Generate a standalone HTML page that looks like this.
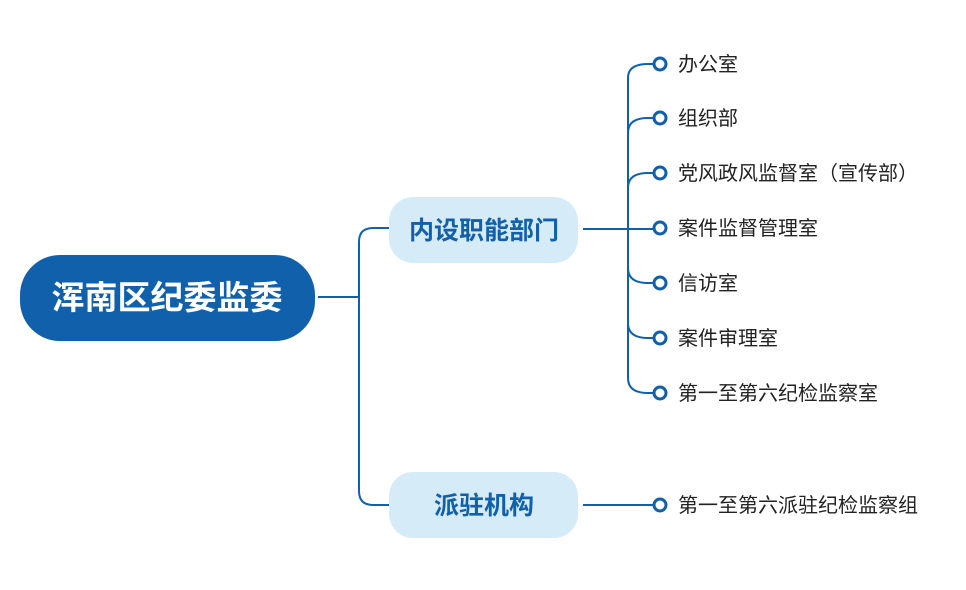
<!DOCTYPE html>
<html><head><meta charset="utf-8"><style>
body{margin:0;width:966px;height:590px;background:#fff;overflow:hidden;font-family:"Liberation Sans","Noto Sans CJK SC",sans-serif}
</style></head><body>
<svg width="966" height="590" xmlns="http://www.w3.org/2000/svg" style="position:absolute;left:0;top:0">
<g fill="none" stroke="#1160ab" stroke-width="2">
<path d="M318 297 H359"/>
<path d="M389 228 H373 Q359 228 359 242 V491 Q359 505 373 505 H389"/>
<path d="M583 229 H655"/>
<path d="M583 505 H655"/>
<path d="M628 378 V78 Q628 64 648 64 H655"/>
<path d="M628 133 Q628 118 648 118 H655"/>
<path d="M628 188 Q628 173 648 173 H655"/>
<path d="M628 268 Q628 283 648 283 H655"/>
<path d="M628 323 Q628 338 648 338 H655"/>
<path d="M628 378 Q628 393 648 393 H655"/>
</g>
<g fill="#fff" stroke="#1160ab" stroke-width="3">
<circle cx="660" cy="64" r="6"/><circle cx="660" cy="118" r="6"/><circle cx="660" cy="173" r="6"/><circle cx="660" cy="228" r="6"/><circle cx="660" cy="283" r="6"/><circle cx="660" cy="338" r="6"/><circle cx="660" cy="393" r="6"/><circle cx="660" cy="505" r="6"/>
</g>
<rect x="20" y="255" width="295" height="86" rx="40" fill="#1160ab"/>
<text x="167" y="309" text-anchor="middle" font-size="33" font-weight="bold" fill="#fff" font-family="Liberation Sans,Noto Sans CJK SC,sans-serif">浑南区纪委监委</text>
<rect x="389" y="197" width="189" height="66" rx="24" fill="#d5ebf8"/>
<text x="484" y="239" text-anchor="middle" font-size="25" font-weight="bold" fill="#1160ab" font-family="Liberation Sans,Noto Sans CJK SC,sans-serif">内设职能部门</text>
<rect x="389" y="472" width="189" height="66" rx="24" fill="#d5ebf8"/>
<text x="484" y="514" text-anchor="middle" font-size="25" font-weight="bold" fill="#1160ab" font-family="Liberation Sans,Noto Sans CJK SC,sans-serif">派驻机构</text>
<g font-size="20" fill="#222" font-family="Liberation Sans,Noto Sans CJK SC,sans-serif">
<text x="678" y="71">办公室</text>
<text x="678" y="125">组织部</text>
<text x="678" y="180">党风政风监督室（宣传部）</text>
<text x="678" y="235">案件监督管理室</text>
<text x="678" y="290">信访室</text>
<text x="678" y="345">案件审理室</text>
<text x="678" y="400">第一至第六纪检监察室</text>
<text x="678" y="512">第一至第六派驻纪检监察组</text>
</g>
</svg>
</body></html>
